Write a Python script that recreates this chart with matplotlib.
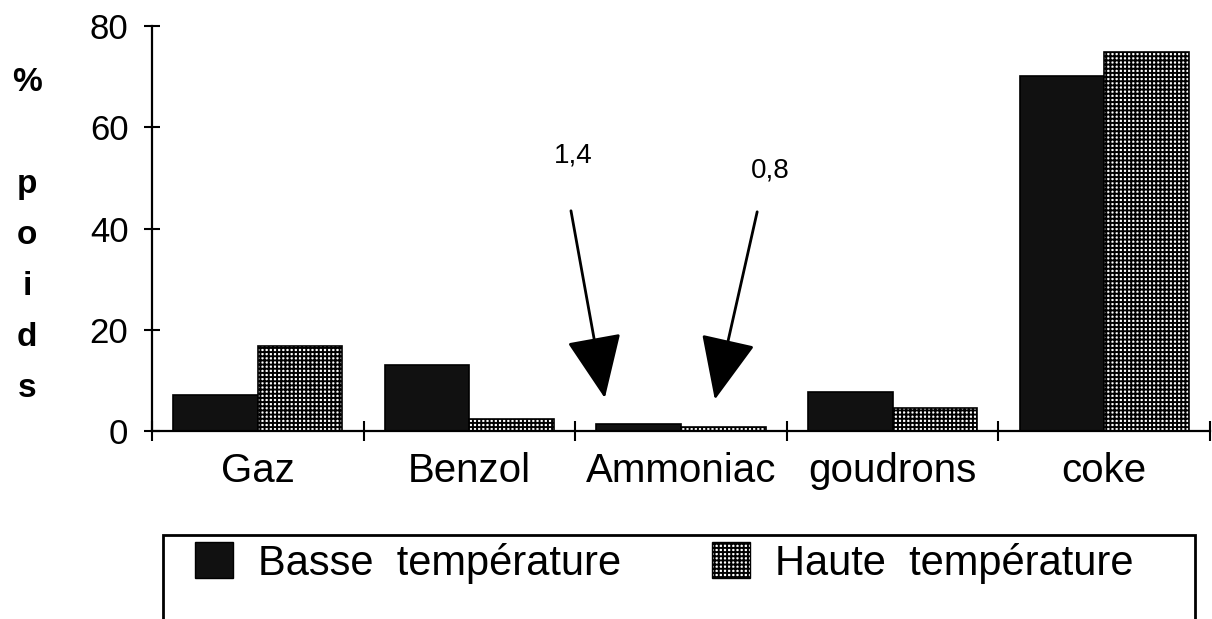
import numpy as np
import matplotlib
matplotlib.use('Agg')
import matplotlib.pyplot as plt
from matplotlib.patches import Rectangle, Patch, ArrowStyle

# ============================================================
# DATA
# ============================================================
categories = ['Gaz', 'Benzol', 'Ammoniac', 'goudrons', 'coke']
basse      = [7.1, 13.0, 1.4, 7.8, 70.2]
haute      = [16.7, 2.4, 0.8, 4.6, 74.9]
series     = ['Basse  température', 'Haute  température']
yticks     = [0, 20, 40, 60, 80]
ammoniac_labels = ['1,4', '0,8']

plt.rcParams['font.family'] = ['Liberation Sans', 'DejaVu Sans']
plt.rcParams['hatch.linewidth'] = 1.4
plt.rcParams['hatch.color'] = 'black'

fig = plt.figure(figsize=(12.12, 6.19), dpi=100)
ax = fig.add_axes([152/1212, 1 - 431/619, 1058/1212, 405/619])

x = np.arange(len(categories))
w = 0.4
ax.bar(x - w/2, basse, width=w, color='#111111', edgecolor='black', linewidth=1.2)
ax.bar(x + w/2, haute, width=w, color='white', edgecolor='black', linewidth=1.2,
       hatch='++++')

ax.set_xlim(-0.5, len(categories) - 0.5)
ax.set_ylim(0, 80)

# category labels at centres, tick marks at group boundaries
ax.set_xticks(x)
ax.set_xticklabels(categories, fontsize=29)
ax.tick_params(axis='x', which='major', length=0, pad=15)
ax.set_xticks(np.arange(-0.5, len(categories)), minor=True)
ax.tick_params(axis='x', which='minor', direction='inout', length=14, width=1.5)

ax.set_yticks(yticks)
ax.set_yticklabels([str(v) for v in yticks], fontsize=25)
ax.tick_params(axis='y', direction='inout', length=12, width=1.5, pad=11)

for s in ['top', 'right']:
    ax.spines[s].set_visible(False)
for s in ['left', 'bottom']:
    ax.spines[s].set_linewidth(1.6)

# vertical y label
fig.text(27/1212, 1 - 67/619, '%\n\np\no\ni\nd\ns', fontsize=24, fontweight='bold',
         ha='center', va='top', linespacing=1.83)

# arrows pointing to the tiny Ammoniac bars
i_amm = categories.index('Ammoniac')
head = ArrowStyle('-|>', head_length=1.6, head_width=0.7)
ax.annotate('', xy=(i_amm - 0.36, 6.5), xytext=(i_amm - 0.52, 43.5),
            arrowprops=dict(arrowstyle=head, mutation_scale=25, lw=2, color='black',
                            shrinkA=0, shrinkB=0))
ax.annotate('', xy=(i_amm + 0.16, 6.2), xytext=(i_amm + 0.36, 43.3),
            arrowprops=dict(arrowstyle=head, mutation_scale=25, lw=2, color='black',
                            shrinkA=0, shrinkB=0))
ax.text(i_amm - 0.51, 54.5, ammoniac_labels[0], fontsize=20, ha='center', va='center')
ax.text(i_amm + 0.42, 51.5, ammoniac_labels[1], fontsize=20, ha='center', va='center')

# legend box (cut off at the bottom like the scan)
fig.patches.append(Rectangle((163/1212, -0.1), (1195 - 163)/1212, 0.1 + 1 - 535/619,
                             transform=fig.transFigure, fill=False,
                             edgecolor='black', linewidth=2))
handles = [Patch(facecolor='#111111', edgecolor='black'),
           Patch(facecolor='white', edgecolor='black', hatch='++++')]
fig.legend(handles, series, loc='center left',
           bbox_to_anchor=(195/1212, 1 - 563/619), ncol=2, frameon=False,
           fontsize=30, borderpad=0, borderaxespad=0, handlelength=0.9,
           handleheight=0.95, handletextpad=0.6, columnspacing=2.2)

fig.savefig('out.png', dpi=100)
